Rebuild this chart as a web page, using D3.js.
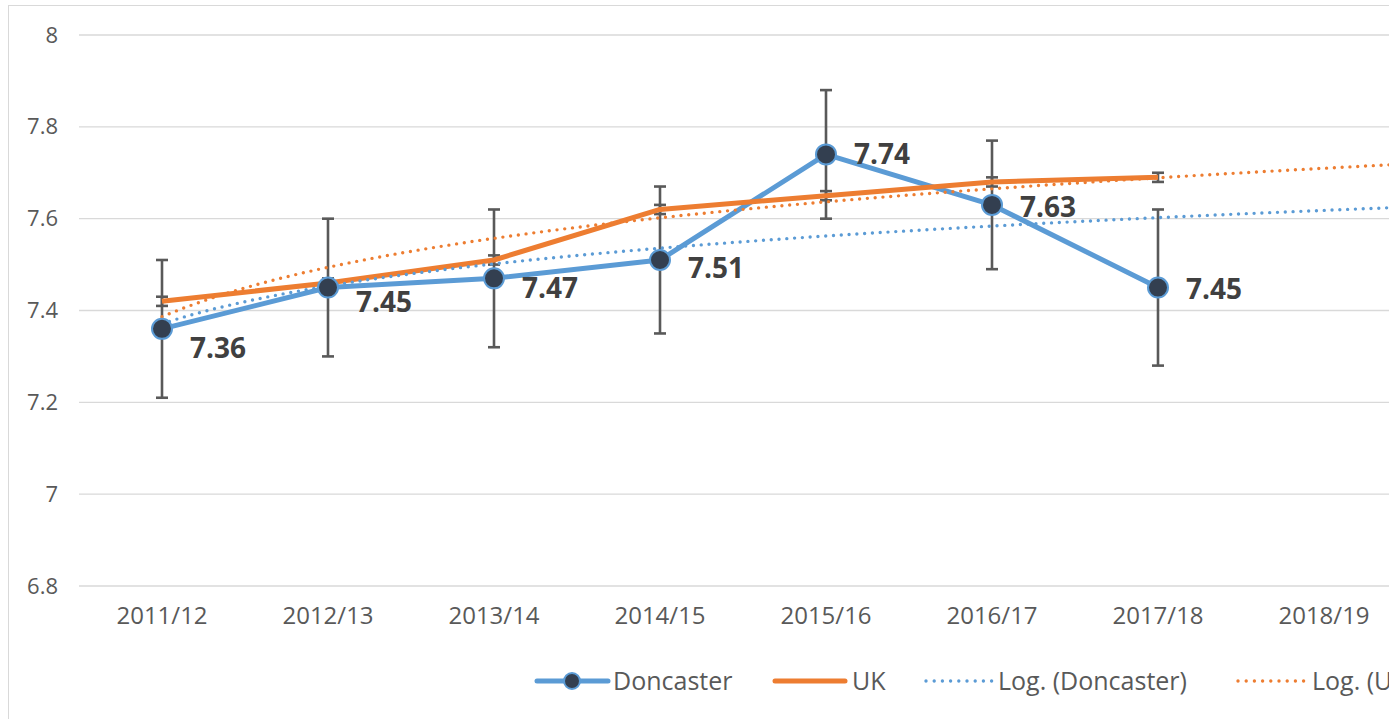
<!DOCTYPE html>
<html lang="en">
<head>
<meta charset="utf-8">
<title>Doncaster vs UK</title>
<script src="https://d3js.org/d3.v7.min.js"></script>
<style>
  body { margin: 0; background: #fff; }
  text { font-family: "Open Sans", sans-serif; }
</style>
</head>
<body>
<script>
// data
var years = ["2011/12", "2012/13", "2013/14", "2014/15", "2015/16", "2016/17", "2017/18", "2018/19"];
var doncaster = [7.36, 7.45, 7.47, 7.51, 7.74, 7.63, 7.45];
var doncasterLow = [7.21, 7.30, 7.32, 7.35, 7.60, 7.49, 7.28];
var doncasterHigh = [7.51, 7.60, 7.62, 7.67, 7.88, 7.77, 7.62];
var uk = [7.42, 7.46, 7.51, 7.62, 7.65, 7.68, 7.69];
var ukLow = [7.41, 7.45, 7.50, 7.61, 7.64, 7.67, 7.68];
var ukHigh = [7.43, 7.47, 7.52, 7.63, 7.66, 7.69, 7.70];
var yTicks = [6.8, 7, 7.2, 7.4, 7.6, 7.8, 8];
var labelDy = [19, 14, 10, 8, 0, 2, 1]; // label nudges (px)

var W = 1389, H = 719;
var blue = "#5b9bd5", orange = "#ed7d31", navy = "#333f50", grey = "#595959";

var svg = d3.select("body").append("svg")
    .attr("width", W)
    .attr("height", H);

// chart border
svg.append("rect")
    .attr("x", 8.5).attr("y", 5.5)
    .attr("width", 1500).attr("height", 800)
    .attr("fill", "none").attr("stroke", "#d9d9d9").attr("stroke-width", 1);

var x = d3.scaleBand().domain(years).range([79, 1407]).padding(0);
var bw = x.bandwidth();
var cx = function(i) { return x(years[0]) + bw / 2 + i * bw; }; // i = 0-based index, may be fractional
var y = d3.scaleLinear().domain([6.8, 8]).range([586, 35]);

// gridlines
svg.append("g").selectAll("line")
    .data(yTicks).enter().append("line")
    .attr("x1", 79).attr("x2", W)
    .attr("y1", function(d) { return y(d); })
    .attr("y2", function(d) { return y(d); })
    .attr("stroke", "#d9d9d9").attr("stroke-width", 1.3);

// y axis labels
var yAxis = d3.axisLeft(y).tickValues(yTicks).tickSize(0).tickPadding(0)
    .tickFormat(function(d) { return d3.format("")(+d.toFixed(1)); });
var gy = svg.append("g").attr("transform", "translate(58,0)").call(yAxis);
gy.select(".domain").remove();
gy.selectAll("text").attr("font-size", 22).attr("fill", grey)
    .style("font-family", "'Open Sans', sans-serif");

// x axis labels
var xAxis = d3.axisBottom(x).tickSize(0).tickPadding(0);
var gx = svg.append("g").attr("transform", "translate(0,607)").call(xAxis);
gx.select(".domain").remove();
gx.selectAll("text").attr("font-size", 24).attr("fill", grey).attr("dy", "0.71em")
    .style("font-family", "'Open Sans', sans-serif");

// log trendline: y = a ln(x) + b, x = 1..n
function logFit(vals) {
  var lx = vals.map(function(v, i) { return Math.log(i + 1); });
  var mx = d3.mean(lx), my = d3.mean(vals);
  var sxy = d3.sum(vals, function(v, i) { return (lx[i] - mx) * (v - my); });
  var sxx = d3.sum(lx, function(l) { return (l - mx) * (l - mx); });
  var a = sxy / sxx;
  return { a: a, b: my - a * mx };
}
function trendPts(vals) {
  var f = logFit(vals);
  return d3.range(0, 7.6, 0.05).map(function(i) { return [i, f.a * Math.log(i + 1) + f.b]; });
}

var line = d3.line()
    .x(function(d, i) { return cx(i); })
    .y(function(d) { return y(d); });
var tline = d3.line()
    .x(function(d) { return cx(d[0]); })
    .y(function(d) { return y(d[1]); });

// error bars
function errorBars(lo, hi) {
  var g = svg.append("g").attr("stroke", grey).attr("stroke-width", 2.6);
  lo.forEach(function(l, i) {
    var xx = cx(i);
    g.append("line").attr("x1", xx).attr("x2", xx).attr("y1", y(l)).attr("y2", y(hi[i]));
    g.append("line").attr("x1", xx - 6).attr("x2", xx + 6).attr("y1", y(l)).attr("y2", y(l));
    g.append("line").attr("x1", xx - 6).attr("x2", xx + 6).attr("y1", y(hi[i])).attr("y2", y(hi[i]));
  });
}
errorBars(doncasterLow, doncasterHigh);
errorBars(ukLow, ukHigh);

// series lines
svg.append("path").datum(doncaster).attr("d", line)
    .attr("fill", "none").attr("stroke", blue).attr("stroke-width", 5).attr("stroke-linejoin", "round");
svg.append("path").datum(uk).attr("d", line)
    .attr("fill", "none").attr("stroke", orange).attr("stroke-width", 5).attr("stroke-linejoin", "round");

// trendlines
svg.append("path").datum(trendPts(doncaster)).attr("d", tline)
    .attr("fill", "none").attr("stroke", blue).attr("stroke-width", 3.4)
    .attr("stroke-dasharray", "0,7.8").attr("stroke-linecap", "round");
svg.append("path").datum(trendPts(uk)).attr("d", tline)
    .attr("fill", "none").attr("stroke", orange).attr("stroke-width", 3.4)
    .attr("stroke-dasharray", "0,7.8").attr("stroke-linecap", "round");

// markers
svg.append("g").selectAll("circle")
    .data(doncaster).enter().append("circle")
    .attr("cx", function(d, i) { return cx(i); })
    .attr("cy", function(d) { return y(d); })
    .attr("r", 10)
    .attr("fill", navy).attr("stroke", blue).attr("stroke-width", 2);

// data labels
svg.append("g").selectAll("text")
    .data(doncaster).enter().append("text")
    .attr("x", function(d, i) { return cx(i) + 28; })
    .attr("y", function(d, i) { return y(d) + labelDy[i]; })
    .attr("dy", "0.36em")
    .attr("font-size", 28).attr("font-weight", "bold").attr("fill", "#404040")
    .text(function(d) { return d.toFixed(2); });

// legend
var ly = 681;
var lg = svg.append("g").attr("font-size", 25).attr("fill", grey);
lg.append("line").attr("x1", 537).attr("x2", 608).attr("y1", ly).attr("y2", ly)
    .attr("stroke", blue).attr("stroke-width", 5).attr("stroke-linecap", "round");
lg.append("circle").attr("cx", 572).attr("cy", ly).attr("r", 8)
    .attr("fill", navy).attr("stroke", blue).attr("stroke-width", 2);
lg.append("text").attr("x", 613).attr("y", ly).attr("dy", "0.35em").text("Doncaster");

lg.append("line").attr("x1", 775).attr("x2", 845).attr("y1", ly).attr("y2", ly)
    .attr("stroke", orange).attr("stroke-width", 5).attr("stroke-linecap", "round");
lg.append("text").attr("x", 852).attr("y", ly).attr("dy", "0.35em").text("UK");

lg.append("line").attr("x1", 926).attr("x2", 992).attr("y1", ly).attr("y2", ly)
    .attr("stroke", blue).attr("stroke-width", 3.4)
    .attr("stroke-dasharray", "0,8.2").attr("stroke-linecap", "round");
lg.append("text").attr("x", 998).attr("y", ly).attr("dy", "0.35em").text("Log. (Doncaster)");

lg.append("line").attr("x1", 1238).attr("x2", 1304).attr("y1", ly).attr("y2", ly)
    .attr("stroke", orange).attr("stroke-width", 3.4)
    .attr("stroke-dasharray", "0,8.2").attr("stroke-linecap", "round");
lg.append("text").attr("x", 1312).attr("y", ly).attr("dy", "0.35em").text("Log. (UK)");
</script>
</body>
</html>
